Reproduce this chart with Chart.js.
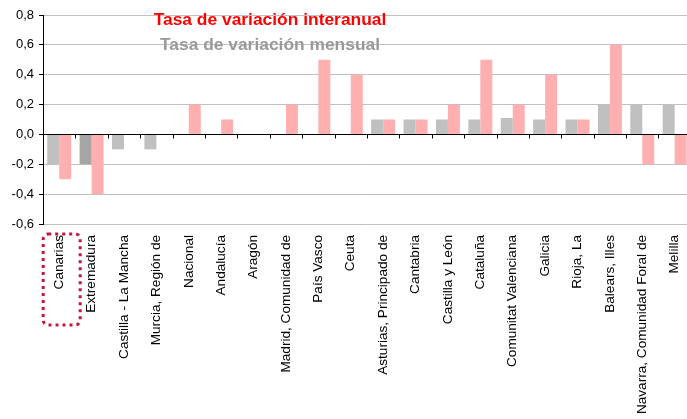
<!DOCTYPE html>
<html><head><meta charset="utf-8">
<script src="https://cdn.jsdelivr.net/npm/chart.js@4/dist/chart.umd.min.js"></script>
<style>html,body{margin:0;padding:0;background:#fff;overflow:hidden}#wrap{width:694px;height:419px;position:relative}</style>
</head><body><div id="wrap"><canvas id="c"></canvas></div>
<script>
const categories = ["Canarias","Extremadura","Castilla - La Mancha","Murcia, Región de","Nacional","Andalucía","Aragón","Madrid, Comunidad de","País Vasco","Ceuta","Asturias, Principado de","Cantabria","Castilla y León","Cataluña","Comunitat Valenciana","Galicia","Rioja, La","Balears, Illes","Navarra, Comunidad Foral de","Melilla"];
const mensual = [-0.2,-0.2,-0.1,-0.1,0,0,0,0,0,0,0.1,0.1,0.1,0.1,0.11,0.1,0.1,0.2,0.2,0.2];
const interanual = [-0.3,-0.4,0,0,0.2,0.1,0,0.2,0.5,0.4,0.1,0.1,0.2,0.5,0.2,0.4,0.1,0.6,-0.2,-0.2];
const yMin = -0.6, yMax = 0.8, yStep = 0.2;
const titleInteranual = "Tasa de variación interanual";
const titleMensual = "Tasa de variación mensual";
const highlighted = "Canarias";

const grayColors = categories.map(c => c === "Extremadura" ? "#a5a5a5" : "#c0c0c0");

const overlay = {
  id: 'overlay',
  afterDatasetsDraw(chart) {
    const {ctx, chartArea, scales:{x, y}} = chart;
    const y0 = Math.round(y.getPixelForValue(0)) + 0.5;
    const w = (x.getPixelForValue(1) - x.getPixelForValue(0));
    ctx.save();
    ctx.strokeStyle = '#000'; ctx.lineWidth = 1;
    ctx.beginPath();
    ctx.moveTo(chartArea.left, y0); ctx.lineTo(chartArea.right, y0);
    for (let i = 1; i <= categories.length; i++) {
      const px = Math.round(x.getPixelForValue(i) - w/2) + 0.5;
      ctx.moveTo(px, y0); ctx.lineTo(px, y0 + 4);
    }
    ctx.stroke();
    // titles
    ctx.textAlign = 'center'; ctx.textBaseline = 'middle';
    ctx.font = 'bold 17.4px "Liberation Sans", Arial, sans-serif';
    ctx.fillStyle = '#ff0000';
    ctx.fillText(titleInteranual, 270, 20);
    ctx.fillStyle = '#999999';
    ctx.fillText(titleMensual, 270, 45);
    // highlight box
    const idx = categories.indexOf(highlighted);
    const cx = x.getPixelForValue(idx);
    const bx = cx - 16, by = 234, bw = 37, bh = 91, r = 5;
    ctx.strokeStyle = '#c8143c'; ctx.lineWidth = 3; ctx.setLineDash([3,4]);
    ctx.beginPath();
    ctx.roundRect(bx, by, bw, bh, r);
    ctx.stroke();
    ctx.restore();
  }
};

new Chart(document.getElementById('c'), {
  type: 'bar',
  data: {
    labels: categories,
    datasets: [
      {label: titleMensual, data: mensual, backgroundColor: grayColors, borderWidth: 0},
      {label: titleInteranual, data: interanual, backgroundColor: '#ffafaf', borderWidth: 0}
    ]
  },
  options: {
    responsive: true, maintainAspectRatio: false, animation: false,
    layout: {padding: {top: 15, left: 0, right: 0, bottom: 0}},
    plugins: {legend: {display: false}, tooltip: {enabled: false}, title: {display: false}},
    datasets: {bar: {categoryPercentage: 0.74, barPercentage: 1}},
    scales: {
      x: {
        offset: true,
        grid: {display: false},
        border: {display: false},
        ticks: {autoSkip: false, maxRotation: 90, minRotation: 90, padding: 3, color: '#000',
          font: {family: '"Liberation Sans", Arial, sans-serif', size: 13.6}},
        afterFit(s) { s.height = 195; }
      },
      y: {
        min: yMin, max: yMax,
        ticks: {stepSize: yStep, color: '#000', padding: 5,
          font: {family: '"Liberation Sans", Arial, sans-serif', size: 13},
          callback: v => (Math.abs(v) < 1e-9 ? 0 : v).toFixed(1).replace('.', ',')},
        grid: {color: ctx => '#c0c0c0', lineWidth: 1, drawTicks: true, tickLength: 4, tickColor: '#000'},
        border: {display: true, color: '#000', width: 1},
        afterFit(s) { s.width = 43; }
      }
    }
  },
  plugins: [overlay]
});
</script></body></html>
